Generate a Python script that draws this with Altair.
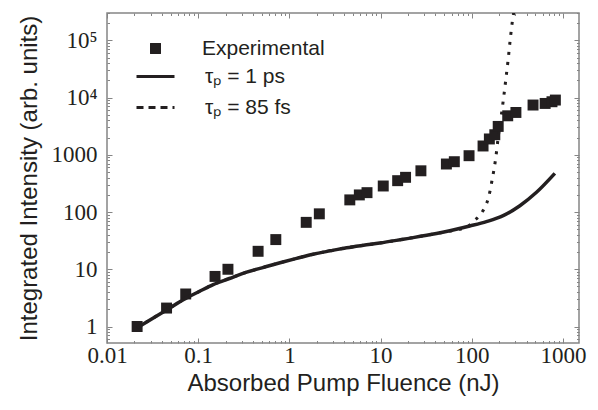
import altair as alt
import pandas as pd

# ---- data ----
exp_x = [0.0214, 0.045, 0.073, 0.153, 0.212, 0.454, 0.71, 1.53, 2.13, 4.6, 5.85, 7.1, 10.7,
         15.4, 18.8, 27.7, 52.7, 64.4, 93.4, 133, 156, 179, 195, 248, 305, 470, 638, 758, 826]
exp_y = [1.0, 2.1, 3.7, 7.5, 10, 20.6, 33, 66, 93, 163, 199, 218, 285,
         353, 404, 525, 690, 757, 964, 1425, 1890, 2240, 3130, 4800, 5490, 7400, 7890, 8450, 9040]

ps1_x = [0.0214, 0.045, 0.073, 0.1, 0.146, 0.22, 0.34, 0.5, 0.79, 1.2, 1.82, 2.8, 4.24, 6.5, 9.8,
         17.7, 41, 95, 145, 221, 337, 513, 815]
ps1_y = [0.95, 1.95, 3.1, 4.0, 5.4, 6.9, 8.9, 10.6, 13.0, 15.5, 18.3, 21, 23.8, 26.3, 28.7,
         33.5, 42, 57, 68, 86.5, 129, 221, 473]

fs85_x = [0.0214, 0.045, 0.073, 0.1, 0.146, 0.22, 0.34, 0.5, 0.79, 1.2, 1.82, 2.8, 4.24, 6.5, 9.8,
          17.7, 41, 69, 88, 105, 126, 142, 154, 162, 169, 177, 184, 195, 209, 223, 237, 251, 264,
          280, 290]
fs85_y = [0.95, 1.95, 3.1, 4.0, 5.4, 6.9, 8.9, 10.6, 13.0, 15.5, 18.3, 21, 23.8, 26.3, 28.7,
          33.5, 42, 49, 54, 69, 93, 129, 188, 277, 403, 603, 927, 2010, 4390, 9640, 21500, 47000,
          102000, 225000, 320000]

x_major = [0.01, 0.1, 1, 10, 100, 1000]
y_major = [1, 10, 100, 1000, 10000, 100000]

SERIES = ["Experimental"]
LINE_LABELS = ["τₚ = 1 ps", "τₚ = 85 fs"]

INK = "#231f20"
FRAME = "#858585"
W, H = 472, 330

x_ticks = [m * 10.0 ** e for e in range(-2, 4) for m in range(1, 10) if m * 10.0 ** e <= 1500]
y_ticks = [m * 10.0 ** e for e in range(-1, 6) for m in range(1, 10) if 0.515 <= m * 10.0 ** e <= 3e5]

x_scale = alt.Scale(type="log", domain=[0.01, 1500], nice=False)
y_scale = alt.Scale(type="log", domain=[0.515, 300000], nice=False)

MAJOR = "abs(log(datum.value)/LN10 - round(log(datum.value)/LN10)) < 1e-6"


def tick_axis(orient, offset, values):
    return alt.Axis(orient=orient, offset=offset, values=values, labels=False, domain=False,
                    grid=False, ticks=True, tickColor=FRAME, tickWidth=1, title="",
                    tickSize={"condition": {"test": MAJOR, "value": 5}, "value": 2.5})


df_exp = pd.DataFrame({"x": exp_x, "y": exp_y, "kind": SERIES[0]})
df_ps = pd.DataFrame({"x": ps1_x, "y": ps1_y, "series": LINE_LABELS[0]})
df_fs = pd.DataFrame({"x": fs85_x, "y": fs85_y, "series": LINE_LABELS[1]})
df_lines = pd.concat([df_ps, df_fs], ignore_index=True)

points = alt.Chart(df_exp).mark_point(shape="square", filled=True, size=120, color=INK, opacity=1).encode(
    x=alt.X("x:Q", scale=x_scale, axis=alt.Axis(
        orient="bottom", values=x_major, format="~g", ticks=False, domain=False, grid=False,
        labelFlush=False,
        labelFont="Liberation Serif", labelFontSize=23, labelColor=INK, labelPadding=1,
        title="Absorbed Pump Fluence (nJ)", titleFont="Liberation Sans", titleFontSize=24,
        titleFontWeight="normal", titleColor=INK, titlePadding=4)),
    y=alt.Y("y:Q", scale=y_scale, axis=alt.Axis(
        orient="left", values=y_major, ticks=False, domain=False, grid=False,
        labelExpr="datum.value >= 100000 ? '10⁵' : datum.value >= 10000 ? '10⁴' : format(datum.value, 'd')",
        labelFont="Liberation Serif", labelFontSize=23, labelColor=INK, labelPadding=10,
        title="Integrated Intensity (arb. units)", titleFont="Liberation Sans", titleFontSize=24,
        titleFontWeight="normal", titleColor=INK, titlePadding=10)),
    shape=alt.Shape("kind:N", scale=alt.Scale(domain=SERIES, range=["square"]),
                    legend=alt.Legend(orient="none", legendX=38, legendY=25, title=None,
                                      labelFont="Liberation Sans", labelFontSize=21, labelColor=INK,
                                      labelOffset=36, symbolSize=120, symbolFillColor=INK,
                                      symbolStrokeWidth=0, padding=0)),
)

solid = alt.Chart(df_ps).mark_line(color=INK, strokeWidth=3.5, interpolate="monotone", clip=True).encode(
    x=alt.X("x:Q", scale=x_scale, axis=tick_axis("top", -H, x_ticks)),
    y=alt.Y("y:Q", scale=y_scale, axis=tick_axis("right", -W, y_ticks)),
)

dotted = alt.Chart(df_fs).mark_line(color=INK, strokeWidth=3, strokeDash=[3, 7], interpolate="monotone",
                                    clip=True).encode(
    x=alt.X("x:Q", scale=x_scale, axis=tick_axis("bottom", -H, x_ticks)),
    y=alt.Y("y:Q", scale=y_scale, axis=tick_axis("left", -W, y_ticks)),
)

legend_layer = alt.Chart(df_lines).mark_line(opacity=0, color=INK, clip=True).encode(
    x=alt.X("x:Q", scale=x_scale, axis=None),
    y=alt.Y("y:Q", scale=y_scale, axis=None),
    strokeDash=alt.StrokeDash("series:N", scale=alt.Scale(domain=LINE_LABELS, range=[[1, 0], [7, 5]]),
                              legend=alt.Legend(orient="none", legendX=28, legendY=43, title=None,
                                                labelFont="Liberation Sans", labelFontSize=21,
                                                labelColor=INK, labelOffset=29, symbolType="stroke",
                                                symbolSize=1444, symbolOpacity=1, symbolStrokeColor=INK,
                                                symbolStrokeWidth=3, rowPadding=-12, padding=0)),
)

chart = alt.layer(points, solid, dotted, legend_layer).resolve_axis(
    x="independent", y="independent"
).properties(
    width=W, height=H,
    autosize=alt.AutoSizeParams(type="none"),
    padding={"left": 99, "top": 5, "right": 11, "bottom": 60},
    background="white",
).configure_view(stroke=FRAME, strokeWidth=1.5)

chart.save("out.html", embed_options={"renderer": "svg", "actions": False})
